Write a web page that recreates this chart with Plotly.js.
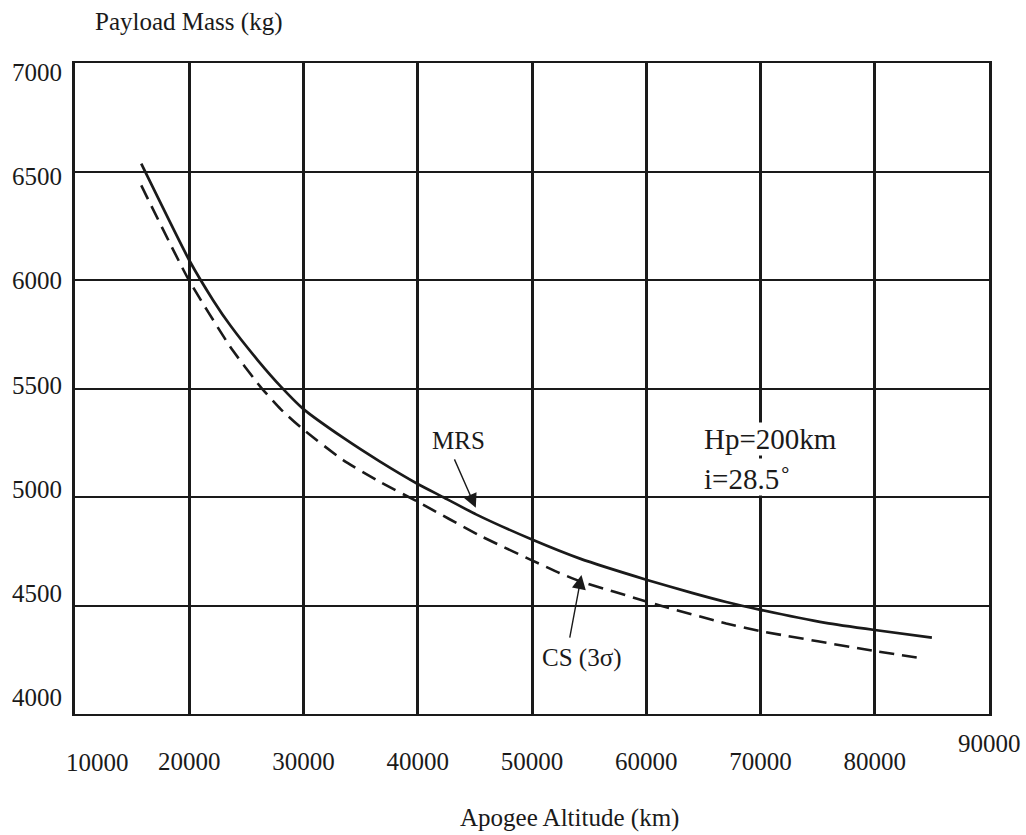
<!DOCTYPE html>
<html>
<head>
<meta charset="utf-8">
<script src="https://cdn.plot.ly/plotly-3.0.1.min.js"></script>
<style>html,body{margin:0;padding:0;background:#fff;}#chart{width:1026px;height:835px;}</style>
</head>
<body>
<div id="chart"></div>
<script>
// Apogee altitude (km) and payload mass (kg)
const mrsAltitude = [15800, 20000, 22100, 23600, 26000, 28000, 30000, 33500, 36700, 40000, 42200, 45100, 50000, 54200, 60000, 64000, 67000, 70000, 75700, 80000, 85000];
const mrsPayload  = [6536, 6091, 5906, 5790, 5630, 5510, 5405, 5272, 5163, 5060, 5000, 4920, 4804, 4716, 4619, 4558, 4516, 4480, 4420, 4387, 4352];
const csAltitude  = [15800, 19900, 23600, 26200, 28000, 30000, 33500, 36700, 40000, 45400, 50000, 52400, 54300, 60000, 61200, 67000, 70000, 80000, 84400];
const csPayload   = [6436, 6006, 5691, 5510, 5405, 5310, 5169, 5069, 4978, 4823, 4708, 4650, 4610, 4519, 4500, 4417, 4382, 4290, 4255];

const xTickVals = [20000, 30000, 40000, 50000, 60000, 70000, 80000];
const xTickText = ['20000', '30000', '40000', '50000', '60000', '70000', '80000'];
const yTickVals = [4000, 4500, 5000, 5500, 6000, 6500, 7000];
const yTickText = ['4000', '4500', '5000', '5500', '6000', '6500', '7000'];

const ink = '#1a1a1a';
const serif = 'Liberation Serif, Times New Roman, serif';

const traces = [
  {x: mrsAltitude, y: mrsPayload, type: 'scatter', mode: 'lines', name: 'MRS',
   line: {color: ink, width: 2.7, shape: 'spline', smoothing: 0.5}},
  {x: csAltitude, y: csPayload, type: 'scatter', mode: 'lines', name: 'CS (3σ)',
   line: {color: ink, width: 2.6, dash: '15px,8px', shape: 'spline', smoothing: 0.5}},
  // empty trace that only carries the tick-label axis
  {x: [], y: [], type: 'scatter', mode: 'lines', yaxis: 'y2', showlegend: false, hoverinfo: 'skip'}
];

const layout = {
  width: 1026, height: 835,
  margin: {l: 75, r: 37, t: 63, b: 121},
  paper_bgcolor: '#fff', plot_bgcolor: '#fff',
  showlegend: false,
  font: {family: serif, color: ink, size: 25},
  xaxis: {
    range: [10000, 90000], tickvals: xTickVals, ticktext: xTickText,
    showgrid: true, gridcolor: ink, gridwidth: 3,
    showline: true, mirror: true, linecolor: ink, linewidth: 2,
    zeroline: false, ticks: '', ticklabelstandoff: 24,
    tickfont: {family: serif, size: 25, color: ink}
  },
  yaxis: {
    range: [4000, 7000], tickvals: yTickVals,
    showgrid: true, gridcolor: ink, gridwidth: 2,
    showline: true, mirror: true, linecolor: ink, linewidth: 3,
    zeroline: false, ticks: '', showticklabels: false
  },
  yaxis2: {
    overlaying: 'y', anchor: 'x', side: 'left',
    range: [3920, 7045], tickvals: yTickVals, ticktext: yTickText,
    showgrid: false, showline: false, zeroline: false, ticks: '',
    ticklabelstandoff: 12,
    tickfont: {family: serif, size: 25, color: ink}
  },
  annotations: [
    {xref: 'paper', yref: 'paper', x: 0.1247, y: 1, yshift: 41, yanchor: 'middle', xanchor: 'center',
     text: 'Payload Mass (kg)', showarrow: false, font: {family: serif, size: 25, color: ink}},
    {xref: 'paper', yref: 'paper', x: 0.5405, y: 0, yshift: -104, yanchor: 'middle', xanchor: 'center',
     text: 'Apogee Altitude (km)', showarrow: false, font: {family: serif, size: 25, color: ink}},
    {xref: 'x', yref: 'paper', x: 10000, y: 0, xshift: 22, yshift: -48, yanchor: 'middle', xanchor: 'center',
     text: '10000', showarrow: false, font: {family: serif, size: 25, color: ink}},
    {xref: 'x', yref: 'paper', x: 90000, y: 0, yshift: -29, yanchor: 'middle', xanchor: 'center',
     text: '90000', showarrow: false, font: {family: serif, size: 25, color: ink}},
    {xref: 'x', yref: 'y', x: 43550, y: 5261, text: 'MRS', showarrow: false,
     xanchor: 'center', yanchor: 'middle', font: {family: serif, size: 25, color: ink}},
    {xref: 'x', yref: 'y', x: 45080, y: 4950, text: '', showarrow: true,
     axref: 'pixel', ayref: 'pixel', ax: -22, ay: -50,
     arrowhead: 2, arrowsize: 2, arrowwidth: 1.4, arrowcolor: ink, standoff: 0},
    {xref: 'x', yref: 'y', x: 54300, y: 4257, text: 'CS (3σ)', showarrow: false,
     xanchor: 'center', yanchor: 'middle', font: {family: serif, size: 25, color: ink}},
    {xref: 'x', yref: 'y', x: 54330, y: 4640, text: '', showarrow: true,
     axref: 'pixel', ayref: 'pixel', ax: -12, ay: 64,
     arrowhead: 2, arrowsize: 2, arrowwidth: 1.4, arrowcolor: ink, standoff: 0},
    {xref: 'x', yref: 'y', x: 64940, y: 5266, text: 'Hp=200km', showarrow: false,
     xanchor: 'left', yanchor: 'middle', align: 'left', bgcolor: '#fff', borderpad: 0,
     font: {family: serif, size: 29, color: ink}},
    {xref: 'x', yref: 'y', x: 64940, y: 5094, text: 'i=28.5<sup>∘</sup>', showarrow: false,
     xanchor: 'left', yanchor: 'middle', align: 'left', bgcolor: '#fff', borderpad: 0,
     font: {family: serif, size: 29, color: ink}}
  ]
};

Plotly.newPlot('chart', traces, layout, {displayModeBar: false, staticPlot: true});
</script>
</body>
</html>
